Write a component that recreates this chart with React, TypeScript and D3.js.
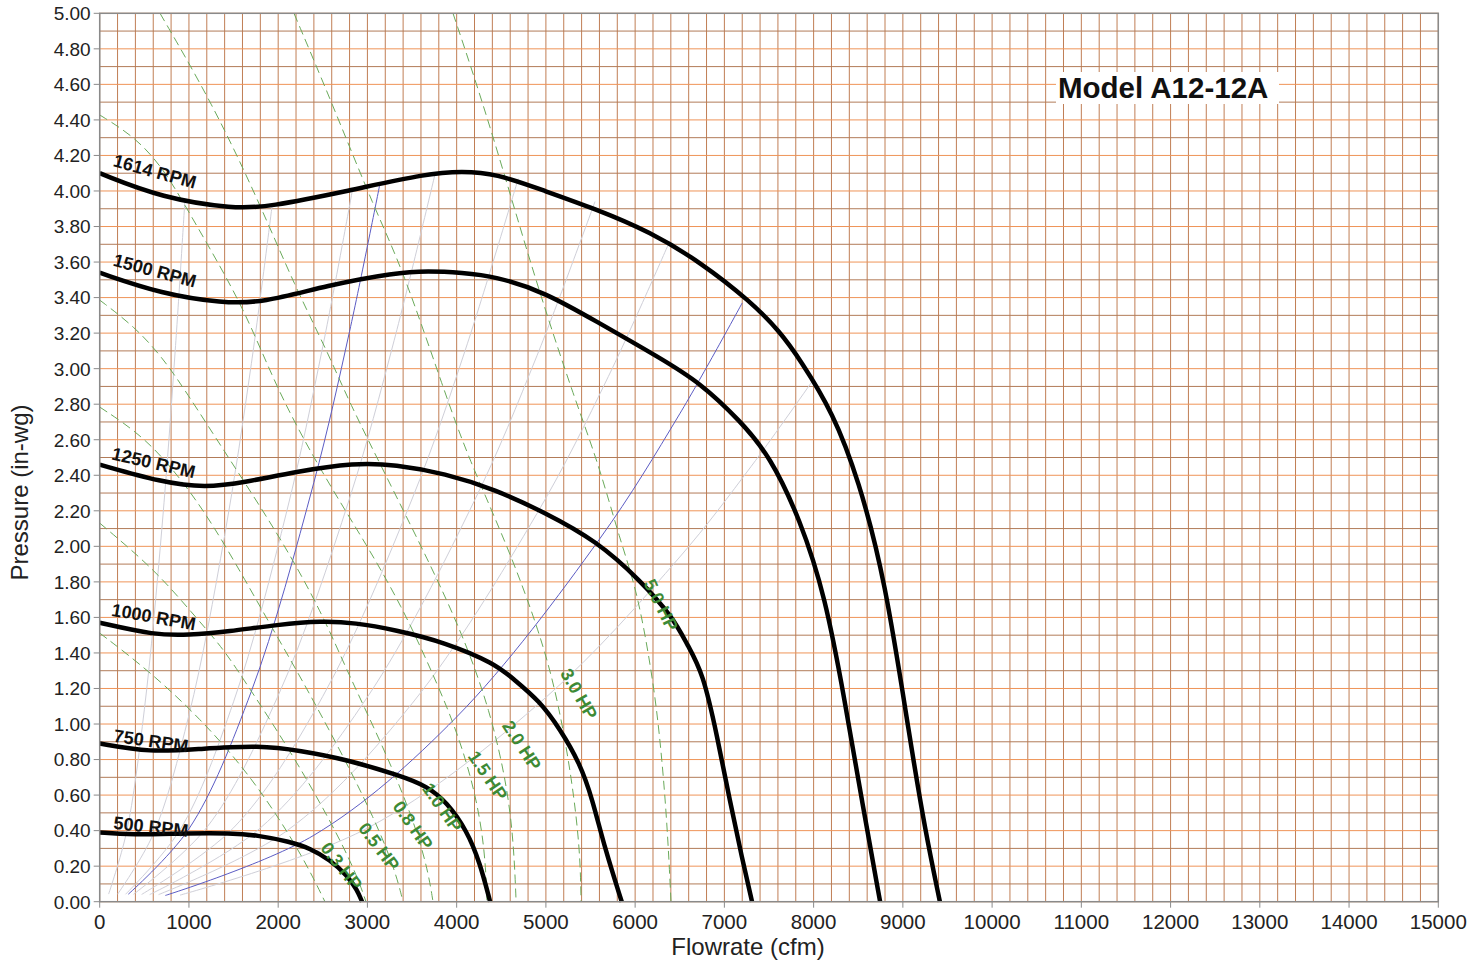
import React from "react";
import * as d3 from "d3";

type Pt = [number, number];

// fan curves: [flow cfm, pressure in-wg]
const rpmNames = ["1614 RPM", "1500 RPM", "1250 RPM", "1000 RPM", "750 RPM", "500 RPM"];
const rpm1614: Pt[] = [[0, 4.10], [700, 3.96], [1515, 3.90], [1885, 3.91], [2780, 4.00], [3680, 4.10], [4060, 4.11], [4430, 4.10], [4990, 4.00], [5550, 3.90], [6170, 3.77], [6730, 3.60], [7290, 3.38], [7620, 3.21], [7850, 3.05], [8220, 2.75], [8500, 2.38], [8800, 1.82], [9080, 0.91], [9250, 0.40], [9415, 0]];
const rpm1500: Pt[] = [[0, 3.54], [700, 3.42], [1375, 3.37], [1820, 3.37], [2560, 3.47], [3310, 3.54], [3680, 3.55], [4060, 3.54], [4430, 3.52], [4990, 3.43], [5550, 3.27], [6280, 3.06], [6730, 2.92], [7170, 2.71], [7510, 2.51], [7850, 2.15], [8130, 1.72], [8350, 1.13], [8540, 0.57], [8745, 0]];
const rpm1250: Pt[] = [[0, 2.46], [700, 2.36], [1180, 2.33], [1630, 2.36], [2190, 2.42], [2860, 2.47], [3310, 2.46], [3870, 2.41], [4430, 2.32], [4990, 2.19], [5570, 2.03], [6055, 1.81], [6425, 1.60], [6580, 1.45], [6760, 1.29], [6920, 0.93], [7060, 0.57], [7200, 0.24], [7310, 0]];
const rpm1000: Pt[] = [[0, 1.57], [620, 1.50], [990, 1.50], [1440, 1.52], [2000, 1.56], [2490, 1.58], [2860, 1.57], [3310, 1.53], [3870, 1.46], [4430, 1.34], [4620, 1.26], [4930, 1.13], [5160, 0.97], [5380, 0.78], [5520, 0.58], [5660, 0.30], [5850, 0]];
const rpm750: Pt[] = [[0, 0.89], [565, 0.84], [1120, 0.86], [1800, 0.88], [2245, 0.85], [2770, 0.80], [3365, 0.71], [3670, 0.65], [3890, 0.56], [4115, 0.40], [4260, 0.22], [4375, 0]];
const rpm500: Pt[] = [[0, 0.39], [340, 0.375], [1010, 0.386], [1460, 0.386], [1760, 0.375], [2135, 0.337], [2360, 0.30], [2580, 0.235], [2770, 0.15], [2885, 0.066], [2940, 0]];
const rpmCurves = [rpm1614, rpm1500, rpm1250, rpm1000, rpm750, rpm500];
// label anchor [cfm, in-wg] and angle (deg)
const rpmLabelAt: Pt[] = [[140, 4.14], [140, 3.58], [125, 2.49], [125, 1.61], [150, 0.90], [150, 0.41]];
const rpmLabelAngle = [15.5, 15, 13, 10, 8, 6];

// constant horsepower lines
const hpNames = ["0.3 HP", "0.5 HP", "0.8 HP", "1.0 HP", "1.5 HP", "2.0 HP", "3.0 HP", "5.0 HP"];
const hp03: Pt[] = [[0, 1.512], [541, 1.304], [1124, 1.034], [1684, 0.713], [2132, 0.375], [2379, 0.150], [2524, 0]];
const hp05: Pt[] = [[0, 2.131], [621, 1.867], [1035, 1.625], [1371, 1.433], [1595, 1.265], [2132, 0.854], [2580, 0.460], [2860, 0.178], [2984, 0]];
const hp08: Pt[] = [[0, 2.784], [507, 2.615], [922, 2.373], [1259, 2.131], [1629, 1.811], [1965, 1.512], [2268, 1.248], [2694, 0.854], [3086, 0.460], [3310, 0.178], [3399, 0]];
const hp10: Pt[] = [[0, 3.386], [396, 3.234], [698, 3.066], [956, 2.880], [1438, 2.503], [2043, 2.036], [2491, 1.625], [2782, 1.287], [3141, 0.910], [3477, 0.516], [3668, 0.207], [3735, 0]];
const hp15: Pt[] = [[0, 4.428], [396, 4.304], [698, 4.135], [922, 3.949], [1180, 3.724], [1628, 3.330], [1998, 2.869], [2491, 2.413], [3007, 1.996], [3387, 1.659], [3679, 1.343], [3982, 0.994], [4206, 0.629], [4318, 0.291], [4340, 0]];
const hp20: Pt[] = [[676, 5.0], [1260, 4.495], [1776, 3.949], [2190, 3.460], [2560, 3.088], [2784, 2.824], [3232, 2.373], [3680, 1.923], [4061, 1.512], [4375, 1.079], [4576, 0.629], [4643, 0.291], [4666, 0]];
const hp30: Pt[] = [[2177, 5.0], [2603, 4.495], [3085, 3.893], [3387, 3.572], [3869, 2.863], [4127, 2.503], [4576, 1.996], [4934, 1.512], [5136, 1.135], [5293, 0.685], [5383, 0.291], [5394, 0]];
const hp50: Pt[] = [[3959, 5.0], [4284, 4.512], [4620, 3.949], [4929, 3.426], [5326, 2.824], [5584, 2.475], [5830, 2.036], [6021, 1.754], [6189, 1.287], [6279, 0.927], [6357, 0.460], [6402, 0]];
const hpCurves = [hp03, hp05, hp08, hp10, hp15, hp20, hp30, hp50];
const hpLabelAt: Pt[] = [[2710, 0.20], [3130, 0.31], [3510, 0.43], [3840, 0.53], [4350, 0.71], [4730, 0.88], [5370, 1.17], [6290, 1.67]];
const hpLabelAngle = [52, 53, 55, 55, 56, 57, 60, 64];

// system curves (thin grey and blue)
const sysGrey: Pt[][] = [
  [[100, 0.043], [300, 0.39], [500, 1.08], [700, 2.12], [850, 3.13], [955, 3.95]],
  [[200, 0.042], [600, 0.38], [1000, 1.05], [1400, 2.06], [1700, 3.03], [1930, 3.91]],
  [[290, 0.042], [900, 0.405], [1500, 1.125], [2100, 2.205], [2500, 3.125], [2830, 4.0]],
  [[380, 0.042], [1200, 0.418], [2000, 1.16], [2800, 2.27], [3300, 3.16], [3760, 4.1]],
  [[470, 0.041], [1500, 0.416], [2500, 1.156], [3500, 2.266], [4100, 3.11], [4690, 4.07]],
  [[560, 0.040], [1800, 0.415], [3000, 1.152], [4200, 2.258], [4900, 3.073], [5550, 3.94]],
  [[660, 0.040], [2100, 0.40], [3500, 1.115], [4900, 2.185], [5700, 2.956], [6390, 3.72]],
  [[900, 0.037], [3000, 0.414], [5000, 1.15], [6500, 1.94], [7300, 2.45], [8000, 2.94]],
];
const sysBlue: Pt[][] = [
  [[320, 0.042], [1000, 0.41], [1700, 1.185], [2400, 2.36], [2800, 3.21], [3140, 4.04]],
  [[735, 0.035], [2400, 0.374], [4000, 1.04], [5600, 2.04], [6500, 2.746], [7200, 3.37]],
];

const xTicks = d3.range(0, 15001, 1000);
const yTicks = d3.range(0, 5.001, 0.2);
const xMinor = d3.range(0, 15001, 200);
const yMinor = d3.range(0, 50.5, 1).map((v) => v / 10);
const modelName = "Model A12-12A";

const W = 1484;
const H = 966;
const FONT = "'Liberation Sans', Arial, sans-serif";

export default function App() {
  const x = d3.scaleLinear().domain([0, 15000]).range([99.7, 1438.3]);
  const y = d3.scaleLinear().domain([0, 5]).range([901.7, 13.3]);
  const smooth = d3
    .line<Pt>()
    .x((d) => x(d[0]))
    .y((d) => y(d[1]))
    .curve(d3.curveBasis);
  const thru = d3
    .line<Pt>()
    .x((d) => x(d[0]))
    .y((d) => y(d[1]))
    .curve(d3.curveCatmullRom.alpha(0.5));

  const [x0, x1] = x.range();
  const [y0, y1] = y.range();

  return (
    <svg width={W} height={H} style={{ position: "absolute", left: 0, top: 0, background: "#fff" }} fontFamily={FONT}>
      <rect x={0} y={0} width={W} height={H} fill="#fff" />
      {/* grid */}
      <g>
        {xMinor.map((v) => (
          <line key={"vx" + v} x1={x(v)} x2={x(v)} y1={y1} y2={y0} stroke="#c07e55" strokeWidth={1} />
        ))}
        {yMinor.map((v, i) => (
          <line key={"hy" + i} x1={x0} x2={x1} y1={y(v)} y2={y(v)} stroke={i % 2 === 0 ? "#ef9458" : "#b27b58"} strokeWidth={1} />
        ))}
      </g>
      {/* system curves */}
      <g fill="none">
        {sysGrey.map((c, i) => (
          <path key={"g" + i} d={thru(c) ?? ""} stroke="#cfcfd8" strokeWidth={1} />
        ))}
        {sysBlue.map((c, i) => (
          <path key={"b" + i} d={thru(c) ?? ""} stroke="#5c5cc4" strokeWidth={1} />
        ))}
      </g>
      {/* horsepower lines */}
      <g fill="none">
        {hpCurves.map((c, i) => (
          <path key={"hp" + i} d={smooth(c) ?? ""} stroke="#6aaa5a" strokeWidth={1} strokeDasharray="9,5" />
        ))}
      </g>
      {/* fan curves */}
      <g fill="none">
        {rpmCurves.map((c, i) => (
          <path key={"r" + i} d={smooth(c) ?? ""} stroke="#000" strokeWidth={4.5} strokeLinejoin="round" />
        ))}
      </g>
      {/* labels */}
      {rpmNames.map((n, i) => (
        <text
          key={"rl" + i}
          transform={`translate(${x(rpmLabelAt[i][0])},${y(rpmLabelAt[i][1])}) rotate(${rpmLabelAngle[i]})`}
          fontSize={18}
          fontWeight="bold"
          fill="#111"
        >
          {n}
        </text>
      ))}
      {hpNames.map((n, i) => (
        <text
          key={"hl" + i}
          transform={`translate(${x(hpLabelAt[i][0])},${y(hpLabelAt[i][1])}) rotate(${hpLabelAngle[i]})`}
          fontSize={18}
          fontWeight="bold"
          fill="#3d8a35"
          textAnchor="middle"
          dy="0.35em"
        >
          {n}
        </text>
      ))}
      {/* model box */}
      <rect x={1056} y={72} width={223} height={32} fill="#fff" />
      <text x={1058} y={98} fontSize={29.5} fontWeight="bold" fill="#111">
        {modelName}
      </text>
      {/* frame & axes */}
      <rect x={x0} y={y1} width={x1 - x0} height={y0 - y1} fill="none" stroke="#8a8a8a" strokeWidth={1.5} />
      {yTicks.map((v, i) => (
        <g key={"yt" + i}>
          <line x1={x0 - 6} x2={x0} y1={y(v)} y2={y(v)} stroke="#8a8a8a" />
          <text x={x0 - 9} y={y(v)} dy="0.36em" textAnchor="end" fontSize={19} fill="#222">
            {d3.format(".2f")(v)}
          </text>
        </g>
      ))}
      {xTicks.map((v) => (
        <g key={"xt" + v}>
          <line x1={x(v)} x2={x(v)} y1={y0} y2={y0 + 6} stroke="#8a8a8a" />
          <text x={x(v)} y={y0 + 27} textAnchor="middle" fontSize={20.5} fill="#222">
            {v}
          </text>
        </g>
      ))}
      <text x={748} y={955} textAnchor="middle" fontSize={24} fill="#222">
        Flowrate (cfm)
      </text>
      <text transform={`translate(28,${(y0 + y1) / 2 + 35}) rotate(-90)`} textAnchor="middle" fontSize={24} fill="#222">
        Pressure (in-wg)
      </text>
    </svg>
  );
}
